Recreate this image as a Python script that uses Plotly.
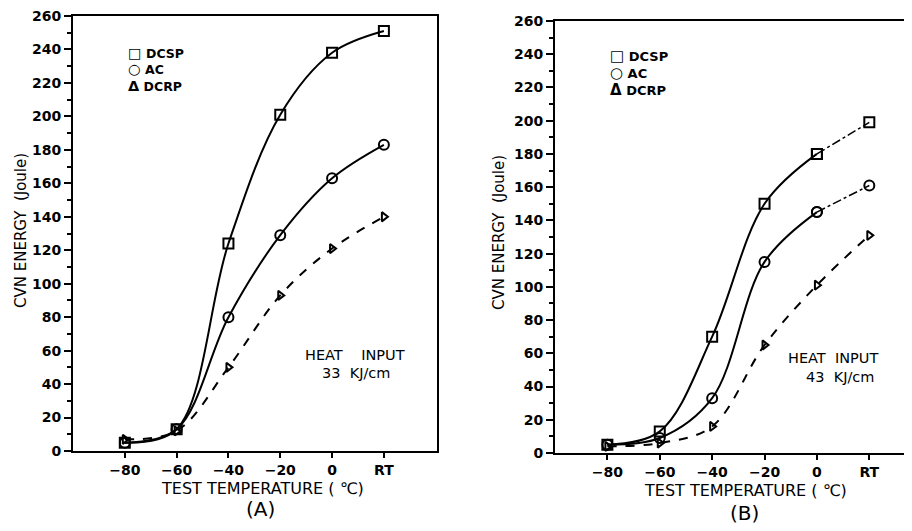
import plotly.graph_objects as go

# ---- data ----
temps = [-80, -60, -40, -20, 0, 20]           # 20 = RT position
tick_vals = [-80, -60, -40, -20, 0, 20]
tick_text = ["\u221280", "\u221260", "\u221240", "\u221220", "0", "RT"]

# Panel A (33 kJ/cm)
a_dcsp = [5, 13, 124, 201, 238, 251]
a_ac = [5, 13, 80, 129, 163, 183]
a_dcrp = [7, 12, 50, 93, 121, 140]

# Panel B (43 kJ/cm)
b_dcsp = [5, 13, 70, 150, 180, 199]
b_ac = [5, 9, 33, 115, 145, 161]
b_dcrp = [4, 6, 16, 65, 101, 131]

series_names = ["DCSP", "AC", "DCRP"]
legend_symbols = ["\u25a1", "\u25cb", "\u0394"]

# page has an 8px body margin; figure is sized to fill the rest of the window
OFF = 8
W, H = 912 - OFF, 531 - OFF
FONT = "DejaVu Sans"


def px(x):
    return (x - OFF) / W


def py(y):
    return 1 - (y - OFF) / H


fig = go.Figure()

marker_syms = ["square-open", "circle-open", "triangle-right-open"]
marker_sizes = [10, 10, 8]
dashes = ["solid", "solid", "dash"]

for i, ys in enumerate([a_dcsp, a_ac, a_dcrp]):
    fig.add_trace(go.Scatter(
        x=temps, y=ys, mode="lines+markers", xaxis="x", yaxis="y",
        line=dict(color="black", width=2, dash=dashes[i], shape="spline", smoothing=1.0),
        marker=dict(symbol=marker_syms[i], size=marker_sizes[i], color="black",
                    line=dict(width=2, color="black")),
        showlegend=False, name=series_names[i]))

for i, ys in enumerate([b_dcsp, b_ac, b_dcrp]):
    if i < 2:
        fig.add_trace(go.Scatter(
            x=temps[:5], y=ys[:5], mode="lines+markers", xaxis="x2", yaxis="y2",
            line=dict(color="black", width=2, shape="spline", smoothing=1.0),
            marker=dict(symbol=marker_syms[i], size=marker_sizes[i], color="black",
                        line=dict(width=2, color="black")),
            showlegend=False, name=series_names[i]))
        fig.add_trace(go.Scatter(
            x=temps[4:], y=ys[4:], mode="lines+markers", xaxis="x2", yaxis="y2",
            line=dict(color="black", width=1.5, dash="dashdot"),
            marker=dict(symbol=marker_syms[i], size=marker_sizes[i], color="black",
                        line=dict(width=2, color="black")),
            showlegend=False, name=series_names[i]))
    else:
        fig.add_trace(go.Scatter(
            x=temps, y=ys, mode="lines+markers", xaxis="x2", yaxis="y2",
            line=dict(color="black", width=2, dash="dash", shape="spline", smoothing=1.0),
            marker=dict(symbol=marker_syms[i], size=marker_sizes[i], color="black",
                        line=dict(width=2, color="black")),
            showlegend=False, name=series_names[i]))

tickfont = dict(family=FONT, size=14, color="black", weight="bold")

common_x = dict(tickvals=tick_vals, ticktext=tick_text, ticks="outside", ticklen=5,
                tickwidth=2, tickcolor="black", showline=True, linecolor="black",
                linewidth=2, showgrid=False, zeroline=False, tickfont=tickfont,
                automargin=False, ticklabeloverflow="allow")
common_y = dict(range=[0, 260], dtick=20, ticks="outside", ticklen=7, tickwidth=2,
                tickcolor="black", showline=True, linecolor="black", linewidth=2,
                showgrid=False, zeroline=False, tickfont=tickfont, automargin=False,
                ticklabeloverflow="allow",
                minor=dict(dtick=10, ticks="outside", ticklen=4, tickwidth=1.5,
                           tickcolor="black"))

fig.update_layout(
    width=W, height=H, margin=dict(l=0, r=0, t=0, b=0),
    paper_bgcolor="white", plot_bgcolor="white",
    xaxis=dict(domain=[px(73), px(437)], range=[-100, 40.5], anchor="y",
               mirror=True, **common_x),
    yaxis=dict(domain=[py(451), py(16)], anchor="x", mirror=True, **common_y),
    xaxis2=dict(domain=[px(555), 1.0], range=[-100, 36.3], anchor="y2",
                mirror=True, **common_x),
    yaxis2=dict(domain=[py(453), py(21)], anchor="x2", mirror=False, **common_y),
)

ann = []
title_font = dict(family=FONT, size=16, color="black")
note_font = dict(family=FONT, size=14.5, color="black")
# axis titles
for (xc, yc, txt) in [(262, 488, "TEST TEMPERATURE ( \u2103)"),
                      (745, 490, "TEST TEMPERATURE ( \u2103)")]:
    ann.append(dict(x=px(xc), y=py(yc), xref="paper", yref="paper", text=txt,
                    showarrow=False, font=title_font, xanchor="center", yanchor="middle"))
for (xc, yc, txt) in [(260, 509, "(A)"), (744, 513, "(B)")]:
    ann.append(dict(x=px(xc), y=py(yc), xref="paper", yref="paper", text=txt,
                    showarrow=False, font=dict(family=FONT, size=20, color="black"),
                    xanchor="center", yanchor="middle"))
for (xc, yc) in [(21, 231), (499, 233)]:
    ann.append(dict(x=px(xc), y=py(yc), xref="paper", yref="paper",
                    text="CVN ENERGY  (Joule)", textangle=-90, showarrow=False,
                    font=dict(family=FONT, size=15, color="black"),
                    xanchor="center", yanchor="middle"))
# heat input notes
for (x1, x2, y1, y2, l1, l2) in [(355, 356, 355, 373, "HEAT    INPUT", "33  KJ/cm"),
                                 (833, 840, 358, 377, "HEAT  INPUT", "43  KJ/cm")]:
    ann.append(dict(x=px(x1), y=py(y1), xref="paper", yref="paper", text=l1,
                    showarrow=False, font=note_font, xanchor="center", yanchor="middle"))
    ann.append(dict(x=px(x2), y=py(y2), xref="paper", yref="paper", text=l2,
                    showarrow=False, font=note_font, xanchor="center", yanchor="middle"))
# legends (one text block per panel)
for (lx, ty, fs, ss) in [(126, 43, 12.5, 14.5), (608, 45, 13, 15)]:
    lines = ["<span style='font-size:%spx'>%s</span> %s" % (ss, s, n)
             for s, n in zip(legend_symbols, series_names)]
    ann.append(dict(x=px(lx), y=py(ty), xref="paper", yref="paper",
                    text="<br>".join(lines), showarrow=False, align="left",
                    font=dict(family=FONT, size=fs, color="black", weight="bold"),
                    xanchor="left", yanchor="top"))

fig.update_layout(annotations=ann)
fig.write_html("out.html")
